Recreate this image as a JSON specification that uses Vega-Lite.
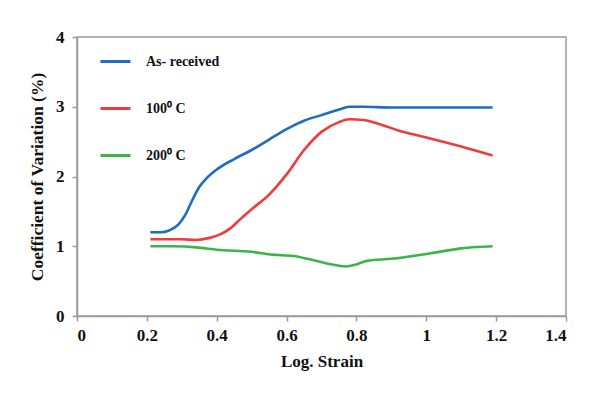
{
  "$schema": "https://vega.github.io/schema/vega-lite/v6.json",
  "width": 489,
  "height": 279,
  "autosize": {"type": "none"},
  "padding": {"left": 77, "top": 37, "right": 27, "bottom": 78},
  "background": "white",
  "config": {
    "view": {"stroke": "#9a9a9a", "strokeWidth": 1.5},
    "font": "Liberation Serif"
  },
  "data": {
    "values": [
      {"s": "As- received", "x": 0.21, "y": 1.2},
      {"s": "As- received", "x": 0.24, "y": 1.2},
      {"s": "As- received", "x": 0.265, "y": 1.23},
      {"s": "As- received", "x": 0.29, "y": 1.31},
      {"s": "As- received", "x": 0.31, "y": 1.45},
      {"s": "As- received", "x": 0.33, "y": 1.66},
      {"s": "As- received", "x": 0.35, "y": 1.85},
      {"s": "As- received", "x": 0.37, "y": 1.97},
      {"s": "As- received", "x": 0.4, "y": 2.1},
      {"s": "As- received", "x": 0.45, "y": 2.25},
      {"s": "As- received", "x": 0.5, "y": 2.38},
      {"s": "As- received", "x": 0.55, "y": 2.53},
      {"s": "As- received", "x": 0.6, "y": 2.68},
      {"s": "As- received", "x": 0.65, "y": 2.8},
      {"s": "As- received", "x": 0.7, "y": 2.88},
      {"s": "As- received", "x": 0.75, "y": 2.96},
      {"s": "As- received", "x": 0.78, "y": 3.0},
      {"s": "As- received", "x": 0.82, "y": 3.0},
      {"s": "As- received", "x": 0.9, "y": 2.99},
      {"s": "As- received", "x": 1.0, "y": 2.99},
      {"s": "As- received", "x": 1.19, "y": 2.99},
      {"s": "100⁰ C", "x": 0.21, "y": 1.1},
      {"s": "100⁰ C", "x": 0.3, "y": 1.1},
      {"s": "100⁰ C", "x": 0.34, "y": 1.09},
      {"s": "100⁰ C", "x": 0.38, "y": 1.12},
      {"s": "100⁰ C", "x": 0.41, "y": 1.17},
      {"s": "100⁰ C", "x": 0.44, "y": 1.26},
      {"s": "100⁰ C", "x": 0.47, "y": 1.4},
      {"s": "100⁰ C", "x": 0.5, "y": 1.53},
      {"s": "100⁰ C", "x": 0.55, "y": 1.74},
      {"s": "100⁰ C", "x": 0.6, "y": 2.03},
      {"s": "100⁰ C", "x": 0.65, "y": 2.38},
      {"s": "100⁰ C", "x": 0.7, "y": 2.64},
      {"s": "100⁰ C", "x": 0.75, "y": 2.78},
      {"s": "100⁰ C", "x": 0.78, "y": 2.82},
      {"s": "100⁰ C", "x": 0.82, "y": 2.81},
      {"s": "100⁰ C", "x": 0.86, "y": 2.76},
      {"s": "100⁰ C", "x": 0.92, "y": 2.66},
      {"s": "100⁰ C", "x": 1.0, "y": 2.56},
      {"s": "100⁰ C", "x": 1.1, "y": 2.43},
      {"s": "100⁰ C", "x": 1.19, "y": 2.3},
      {"s": "200⁰ C", "x": 0.21, "y": 1.0},
      {"s": "200⁰ C", "x": 0.27, "y": 1.0},
      {"s": "200⁰ C", "x": 0.35, "y": 0.98},
      {"s": "200⁰ C", "x": 0.4, "y": 0.95},
      {"s": "200⁰ C", "x": 0.5, "y": 0.92},
      {"s": "200⁰ C", "x": 0.56, "y": 0.88},
      {"s": "200⁰ C", "x": 0.62, "y": 0.86},
      {"s": "200⁰ C", "x": 0.66, "y": 0.82},
      {"s": "200⁰ C", "x": 0.71, "y": 0.76},
      {"s": "200⁰ C", "x": 0.77, "y": 0.71},
      {"s": "200⁰ C", "x": 0.8, "y": 0.74},
      {"s": "200⁰ C", "x": 0.83, "y": 0.79},
      {"s": "200⁰ C", "x": 0.9, "y": 0.82},
      {"s": "200⁰ C", "x": 1.0, "y": 0.89},
      {"s": "200⁰ C", "x": 1.05, "y": 0.93},
      {"s": "200⁰ C", "x": 1.1, "y": 0.97},
      {"s": "200⁰ C", "x": 1.15, "y": 0.99},
      {"s": "200⁰ C", "x": 1.19, "y": 1.0}
    ]
  },
  "mark": {"type": "line", "interpolate": "monotone", "strokeWidth": 2.6},
  "encoding": {
    "x": {
      "field": "x", "type": "quantitative",
      "scale": {"domain": [0, 1.4], "nice": false, "zero": false},
      "axis": {
        "values": [0, 0.2, 0.4, 0.6, 0.8, 1, 1.2, 1.4],
        "format": "~g",
        "grid": false,
        "title": "Log. Strain",
        "titleFont": "Liberation Serif", "titleFontSize": 17, "titleFontWeight": "bold", "titleColor": "#111",
        "titlePadding": 10,
        "labelFont": "Liberation Serif", "labelFontSize": 17, "labelFontWeight": "bold", "labelColor": "#111",
        "labelPadding": 6,
        "domainColor": "#9a9a9a", "domainWidth": 1.5,
        "tickColor": "#9a9a9a", "tickSize": 5, "tickWidth": 1.5
      }
    },
    "y": {
      "field": "y", "type": "quantitative",
      "scale": {"domain": [0, 4], "nice": false},
      "axis": {
        "values": [0, 1, 2, 3, 4],
        "grid": false,
        "title": "Coefficient of Variation  (%)",
        "titleFont": "Liberation Serif", "titleFontSize": 17.5, "titleFontWeight": "bold", "titleColor": "#111",
        "titlePadding": 9,
        "labelFont": "Liberation Serif", "labelFontSize": 17, "labelFontWeight": "bold", "labelColor": "#111",
        "labelPadding": 8,
        "domainColor": "#9a9a9a", "domainWidth": 1.5,
        "tickColor": "#9a9a9a", "tickSize": 5, "tickWidth": 1.5
      }
    },
    "color": {
      "field": "s", "type": "nominal",
      "sort": ["As- received", "100⁰ C", "200⁰ C"],
      "scale": {"domain": ["As- received", "100⁰ C", "200⁰ C"], "range": ["#1f6dbf", "#ee3b3b", "#3cb548"]},
      "legend": {
        "orient": "none",
        "legendX": 22,
        "legendY": 8,
        "title": null,
        "symbolType": "stroke",
        "symbolSize": 900,
        "symbolStrokeWidth": 3,
        "rowPadding": 23,
        "labelOffset": 14,
        "labelFont": "Liberation Serif", "labelFontSize": 14, "labelFontWeight": "bold", "labelColor": "#111"
      }
    }
  }
}
